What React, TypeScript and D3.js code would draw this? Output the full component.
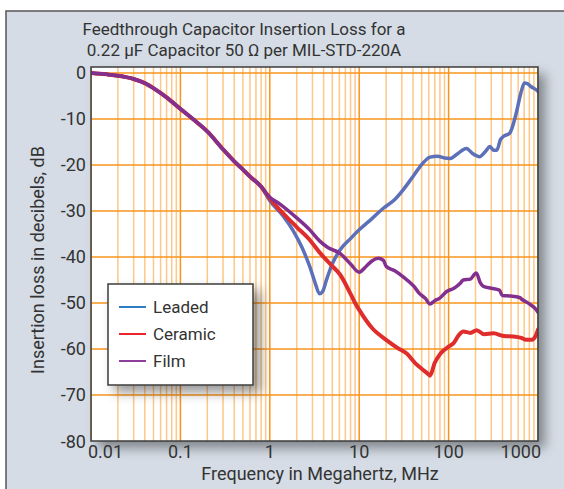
import React from 'react';
import * as d3 from 'd3';

// [frequency MHz, insertion loss dB]
const lowBand: [number, number][] = [
  [0.01, 0], [0.015, -0.3], [0.02, -0.6], [0.03, -1.3], [0.04, -2.2], [0.05, -3.3],
  [0.07, -5.3], [0.1, -7.8], [0.15, -10.6], [0.2, -12.7], [0.3, -16.6], [0.4, -19.2],
  [0.5, -21.0], [0.6, -22.5], [0.8, -24.7],
];

const leaded: [number, number][] = [
  [1.0, -27.8], [1.4, -31], [1.83, -34.3], [2.3, -38], [2.8, -42.1], [3.2, -45.5],
  [3.6, -48], [3.9, -47.5], [4.3, -45], [5, -41.5], [6.1, -38.5], [8, -36], [10, -34.1],
  [14, -31.6], [18.6, -29.4], [25, -27.5], [31, -25.4], [40, -22.5], [52, -19.5],
  [62, -18.3], [75, -18.1], [90, -18.5], [104, -18.6], [125, -17.6], [158, -16.4],
  [185, -17.5], [222, -18.2], [260, -17], [290, -16], [320, -16.8], [346, -16.8],
  [380, -14.5], [410, -13.8], [482, -13.1], [570, -8.8], [640, -4.5], [705, -2.2],
  [760, -2.3], [840, -3], [960, -3.7], [1000, -4],
];

const ceramic: [number, number][] = [
  [1.0, -27.3], [1.3, -29.8], [2, -33.5], [2.8, -36.3], [3.6, -39], [5, -42],
  [6.1, -43.8], [8, -48], [9, -50], [10, -51.5], [14, -55.5], [20, -58], [27, -59.8],
  [34, -61], [42, -63], [50, -64.3], [58, -65.3], [62, -65.8], [70, -63], [81, -61],
  [100, -59.5], [113, -58.8], [130, -57], [146, -56.2], [175, -56.5], [206, -55.9],
  [250, -56.8], [318, -56.6], [420, -57.2], [530, -57.3], [650, -57.6], [735, -58],
  [850, -58], [950, -57], [1000, -55.8],
];

const film: [number, number][] = [
  [1.0, -27], [1.3, -28.5], [2, -31.5], [2.8, -34.1], [3.6, -36.5], [4.5, -38],
  [6.1, -39.2], [8, -41.5], [10, -43.3], [12, -42], [14, -40.8], [16.3, -40.3],
  [18.6, -40.7], [20, -42], [25, -43], [31, -44.3], [41, -46.4], [47, -47.9], [55, -49],
  [62, -50.2], [70, -49.5], [79, -49], [95, -47.5], [115, -46.8], [135, -45.7],
  [146, -45], [175, -44.8], [204, -43.5], [225, -45.5], [245, -46.4], [300, -46.8],
  [370, -47.2], [400, -48.4], [500, -48.5], [620, -48.8], [670, -49.3], [800, -50.2],
  [960, -51.5], [1000, -52],
];

const xTicks = [0.01, 0.1, 1, 10, 100, 1000];
const xTickLabels = ['0.01', '0.1', '1', '10', '100', '1000'];
const yTicks = [0, -10, -20, -30, -40, -50, -60, -70, -80];

const series = [
  { name: 'Leaded', data: [...lowBand, ...leaded], color: '#5b70b8', legend: '#2f7dc2', width: 3.5 },
  { name: 'Ceramic', data: [...lowBand, ...ceramic], color: '#df2c2c', legend: '#e8262c', width: 4 },
  { name: 'Film', data: [...lowBand, ...film], color: '#82308f', legend: '#8e3f9c', width: 3.5 },
];

const W = 564;
const H = 489;
const plot = { left: 91, right: 538, top: 67, bottom: 441 };
const font = 'Roboto, "Liberation Sans", sans-serif';
const textColor = '#333';

export default function App() {
  const x = d3.scaleLog().domain([0.01, 1000]).range([plot.left, plot.right]);
  const y = d3.scaleLinear().domain([-80, 1.3]).range([plot.bottom, plot.top]);

  const minor: number[] = [];
  [0.01, 0.1, 1, 10, 100].forEach((d) => {
    for (let k = 2; k <= 9; k++) minor.push(d * k);
  });

  const line = d3
    .line<[number, number]>()
    .x((d) => x(d[0]))
    .y((d) => y(d[1]))
    .curve(d3.curveMonotoneX);

  const legend = { x: 108, y: 284, w: 145, h: 101 };

  return (
    <svg width={W} height={H} style={{ position: 'absolute', left: 0, top: 0 }} fontFamily={font}>
      <defs>
        <filter id="shadow" x="-10%" y="-10%" width="130%" height="130%">
          <feDropShadow dx="7" dy="7" stdDeviation="6" floodColor="#000" floodOpacity="0.4" />
        </filter>
        <clipPath id="clip">
          <rect x={plot.left} y={plot.top} width={plot.right - plot.left} height={plot.bottom - plot.top} />
        </clipPath>
      </defs>

      <rect x={0} y={0} width={W} height={H} fill="#fff" />
      <rect x={6} y={11} width={W + 20} height={H + 20} fill="#d5dce5" stroke="#555" strokeWidth={1.5} />

      <text x={244} y={35} textAnchor="middle" fontSize={17} fill={textColor}>
        Feedthrough Capacitor Insertion Loss for a
      </text>
      <text x={244} y={56} textAnchor="middle" fontSize={17} fill={textColor}>
        0.22 µF Capacitor 50 Ω per MIL-STD-220A
      </text>

      <rect
        x={plot.left}
        y={plot.top}
        width={plot.right - plot.left}
        height={plot.bottom - plot.top}
        fill="#fff"
        filter="url(#shadow)"
      />

      <g clipPath="url(#clip)">
        {minor.map((d) => (
          <line key={'m' + d} x1={x(d)} x2={x(d)} y1={plot.top} y2={plot.bottom} stroke="#fdc888" strokeWidth={1.5} />
        ))}
        {xTicks.map((d) => (
          <line key={'M' + d} x1={x(d)} x2={x(d)} y1={plot.top} y2={plot.bottom} stroke="#f7941d" strokeWidth={1.5} />
        ))}
        {yTicks.slice(0, -1).map((d) => (
          <line key={'h' + d} x1={plot.left} x2={plot.right} y1={y(d)} y2={y(d)} stroke="#f7941d" strokeWidth={1.5} />
        ))}
        {series.map((s) => (
          <path
            key={s.name}
            d={line(s.data) || ''}
            fill="none"
            stroke={s.color}
            strokeWidth={s.width}
            strokeLinejoin="round"
            strokeLinecap="round"
          />
        ))}
      </g>

      <rect
        x={plot.left}
        y={plot.top}
        width={plot.right - plot.left}
        height={plot.bottom - plot.top}
        fill="none"
        stroke="#3d3d3d"
        strokeWidth={1.5}
      />

      {yTicks.map((d) => (
        <text key={'yl' + d} x={86} y={y(d) + 6.5} textAnchor="end" fontSize={18} fill={textColor}>
          {d}
        </text>
      ))}
      {xTicks.map((d, i) => (
        <text
          key={'xl' + d}
          x={i === 0 ? 88 : i === xTicks.length - 1 ? 541 : x(d)}
          y={458}
          textAnchor={i === 0 ? 'start' : i === xTicks.length - 1 ? 'end' : 'middle'}
          fontSize={18}
          fill={textColor}
        >
          {xTickLabels[i]}
        </text>
      ))}

      <text x={320} y={480} textAnchor="middle" fontSize={18} fill={textColor}>
        Frequency in Megahertz, MHz
      </text>
      <text
        transform={`translate(44,${(plot.top + plot.bottom) / 2 + 6}) rotate(-90)`}
        textAnchor="middle"
        fontSize={18}
        fill={textColor}
      >
        Insertion loss in decibels, dB
      </text>

      <rect
        x={legend.x}
        y={legend.y}
        width={legend.w}
        height={legend.h}
        fill="#fff"
        stroke="#3d3d3d"
        strokeWidth={1.5}
        filter="url(#shadow)"
      />
      {series.map((s, i) => (
        <g key={'lg' + s.name} transform={`translate(0,${307 + i * 27})`}>
          <line x1={119} x2={146} y1={0} y2={0} stroke={s.legend} strokeWidth={2} />
          <text x={153} y={6} fontSize={17} fill={textColor}>
            {s.name}
          </text>
        </g>
      ))}
    </svg>
  );
}
